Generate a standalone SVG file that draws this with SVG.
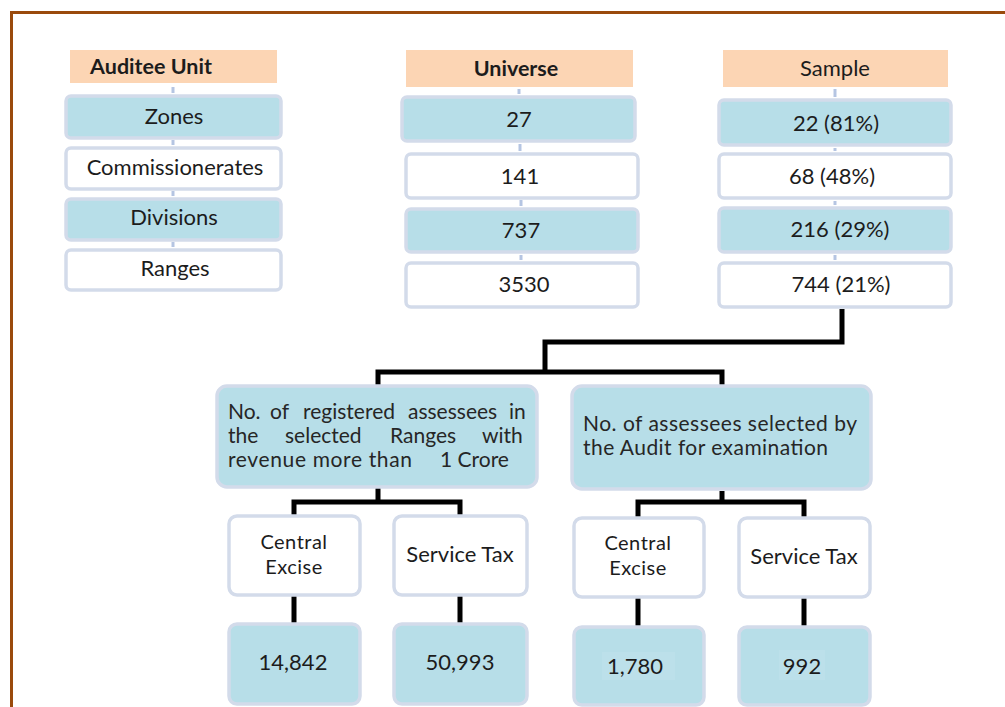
<svg xmlns="http://www.w3.org/2000/svg" width="1005" height="707" viewBox="0 0 1005 707">
<style>
.hdr{fill:#fcd5b4}
.blue{fill:#b7dee8;stroke:#d3dbea;stroke-width:3.5}
.white{fill:#ffffff;stroke:#d3dbea;stroke-width:3.5}
.t{font-family:Lato,"Liberation Sans",sans-serif;font-size:22px;fill:#1c1c1c;text-anchor:middle}
.tb{font-weight:bold;font-size:21.5px}
.tl{text-anchor:start;font-size:21px;fill:#262626}
.ts{font-size:20px;letter-spacing:0.5px}
.dot{stroke:#b5c5e2;stroke-width:3}
.con{fill:none;stroke:#000;stroke-width:5}
.hl{fill:#bce0ea}
</style>
<rect width="1005" height="707" fill="#fff"/>
<path d="M11.5 707 V12.5 H1005" fill="none" stroke="#9a4a0c" stroke-width="3"/>

<g id="connectors">
  <g class="dots">
    <line class="dot" x1="173" y1="87" x2="173" y2="93"/>
    <line class="dot" x1="173" y1="140" x2="173" y2="145"/>
    <line class="dot" x1="173" y1="191" x2="173" y2="196"/>
    <line class="dot" x1="173" y1="242" x2="173" y2="247"/>
    <line class="dot" x1="519" y1="89" x2="519" y2="94"/>
    <line class="dot" x1="520" y1="144" x2="520" y2="151"/>
    <line class="dot" x1="521" y1="200" x2="521" y2="206"/>
    <line class="dot" x1="521" y1="255" x2="521" y2="260"/>
    <line class="dot" x1="835" y1="89" x2="835" y2="97"/>
    <line class="dot" x1="835" y1="148" x2="835" y2="151"/>
    <line class="dot" x1="835" y1="201" x2="835" y2="205"/>
    <line class="dot" x1="835" y1="255" x2="835" y2="260"/>
  </g>
  <path class="con" d="M842 309 V342 H545 V372"/>
  <path class="con" d="M378 386 V372 H722 V386"/>
  <path class="con" d="M378 488 V502 M294 516 V502 H460 V516"/>
  <path class="con" d="M722 491 V502 M638 518 V502 H804 V518"/>
  <path class="con" d="M294 595 V624 M460 595 V624 M638 597 V627 M804 597 V627"/>
</g>

<g id="auditee-unit">
  <rect class="hdr" x="70" y="50" width="207" height="33"/>
  <text class="t tb" x="151" y="74">Auditee Unit</text>
</g>
<g id="zones">
  <rect class="blue" x="66" y="96" width="215" height="42" rx="5"/>
  <text class="t" x="174" y="124">Zones</text>
</g>
<g id="commissionerates">
  <rect class="white" x="66" y="148" width="215" height="41" rx="5"/>
  <text class="t" x="175" y="175">Commissionerates</text>
</g>
<g id="divisions">
  <rect class="blue" x="66" y="199" width="215" height="41" rx="5"/>
  <text class="t" x="174" y="225">Divisions</text>
</g>
<g id="ranges">
  <rect class="white" x="66" y="250" width="215" height="40" rx="5"/>
  <text class="t" x="175" y="276">Ranges</text>
</g>

<g id="universe">
  <rect class="hdr" x="406" y="50" width="227" height="37"/>
  <text class="t tb" x="516" y="76">Universe</text>
</g>
<g id="u-27">
  <rect class="blue" x="402" y="97" width="233" height="44" rx="5"/>
  <text class="t" x="519" y="127">27</text>
</g>
<g id="u-141">
  <rect class="white" x="406" y="154" width="232" height="44" rx="5"/>
  <text class="t" x="520" y="184">141</text>
</g>
<g id="u-737">
  <rect class="blue" x="406" y="209" width="232" height="43" rx="5"/>
  <text class="t" x="521" y="238">737</text>
</g>
<g id="u-3530">
  <rect class="white" x="406" y="263" width="232" height="44" rx="5"/>
  <text class="t" x="524" y="292">3530</text>
</g>

<g id="sample">
  <rect class="hdr" x="723" y="50" width="225" height="37"/>
  <text class="t" x="835" y="76">Sample</text>
</g>
<g id="s-22">
  <rect class="blue" x="719" y="100" width="232" height="45" rx="5"/>
  <text class="t" x="836" y="131">22 (81%)</text>
</g>
<g id="s-68">
  <rect class="white" x="719" y="154" width="232" height="44" rx="5"/>
  <text class="t" x="832" y="184">68 (48%)</text>
</g>
<g id="s-216">
  <rect class="blue" x="719" y="208" width="232" height="44" rx="5"/>
  <text class="t" x="840" y="237">216 (29%)</text>
</g>
<g id="s-744">
  <rect class="white" x="719" y="263" width="232" height="44" rx="5"/>
  <text class="t" x="841" y="292">744 (21%)</text>
</g>

<g id="registered">
  <rect class="blue" x="217" y="386" width="320" height="101" rx="10"/>
  <text class="t tl" y="419"><tspan x="228">No.</tspan><tspan x="270">of</tspan><tspan x="303">registered</tspan><tspan x="408">assessees</tspan><tspan x="509">in</tspan></text>
  <text class="t tl" y="443"><tspan x="228">the</tspan><tspan x="285">selected</tspan><tspan x="390">Ranges</tspan><tspan x="482">with</tspan></text>
  <text class="t tl" y="467"><tspan x="228" textLength="184" lengthAdjust="spacing">revenue more than</tspan><tspan x="440">1 Crore</tspan></text>
</g>
<g id="selected">
  <rect class="blue" x="572" y="386" width="299" height="103" rx="10"/>
  <text class="t tl" x="583" y="431" textLength="274" lengthAdjust="spacing">No. of assessees selected by</text>
  <text class="t tl" x="583" y="455" textLength="245" lengthAdjust="spacing">the Audit for examination</text>
</g>

<g id="reg-central-excise">
  <rect class="white" x="229" y="516" width="131" height="79" rx="8"/>
  <text class="t ts" x="294" y="549">Central</text>
  <text class="t ts" x="294" y="574">Excise</text>
</g>
<g id="reg-service-tax">
  <rect class="white" x="394" y="516" width="133" height="79" rx="8"/>
  <text class="t" x="460" y="562">Service Tax</text>
</g>
<g id="reg-ce-value">
  <rect class="blue" x="229" y="624" width="131" height="80" rx="8"/>
  <text class="t" x="293" y="670">14,842</text>
</g>
<g id="reg-st-value">
  <rect class="blue" x="394" y="624" width="133" height="80" rx="8"/>
  <text class="t" x="460" y="670">50,993</text>
</g>

<g id="sel-central-excise">
  <rect class="white" x="574" y="518" width="130" height="79" rx="8"/>
  <text class="t ts" x="638" y="550">Central</text>
  <text class="t ts" x="638" y="575">Excise</text>
</g>
<g id="sel-service-tax">
  <rect class="white" x="739" y="518" width="131" height="79" rx="8"/>
  <text class="t" x="804" y="564">Service Tax</text>
</g>
<g id="sel-ce-value">
  <rect class="blue" x="574" y="627" width="130" height="78" rx="8"/>
  <rect class="hl" x="602" y="652" width="73" height="28"/>
  <text class="t" x="635" y="674">1,780</text>
</g>
<g id="sel-st-value">
  <rect class="blue" x="739" y="627" width="131" height="78" rx="8"/>
  <rect class="hl" x="779" y="650" width="46" height="30"/>
  <text class="t" x="802" y="674">992</text>
</g>
</svg>
